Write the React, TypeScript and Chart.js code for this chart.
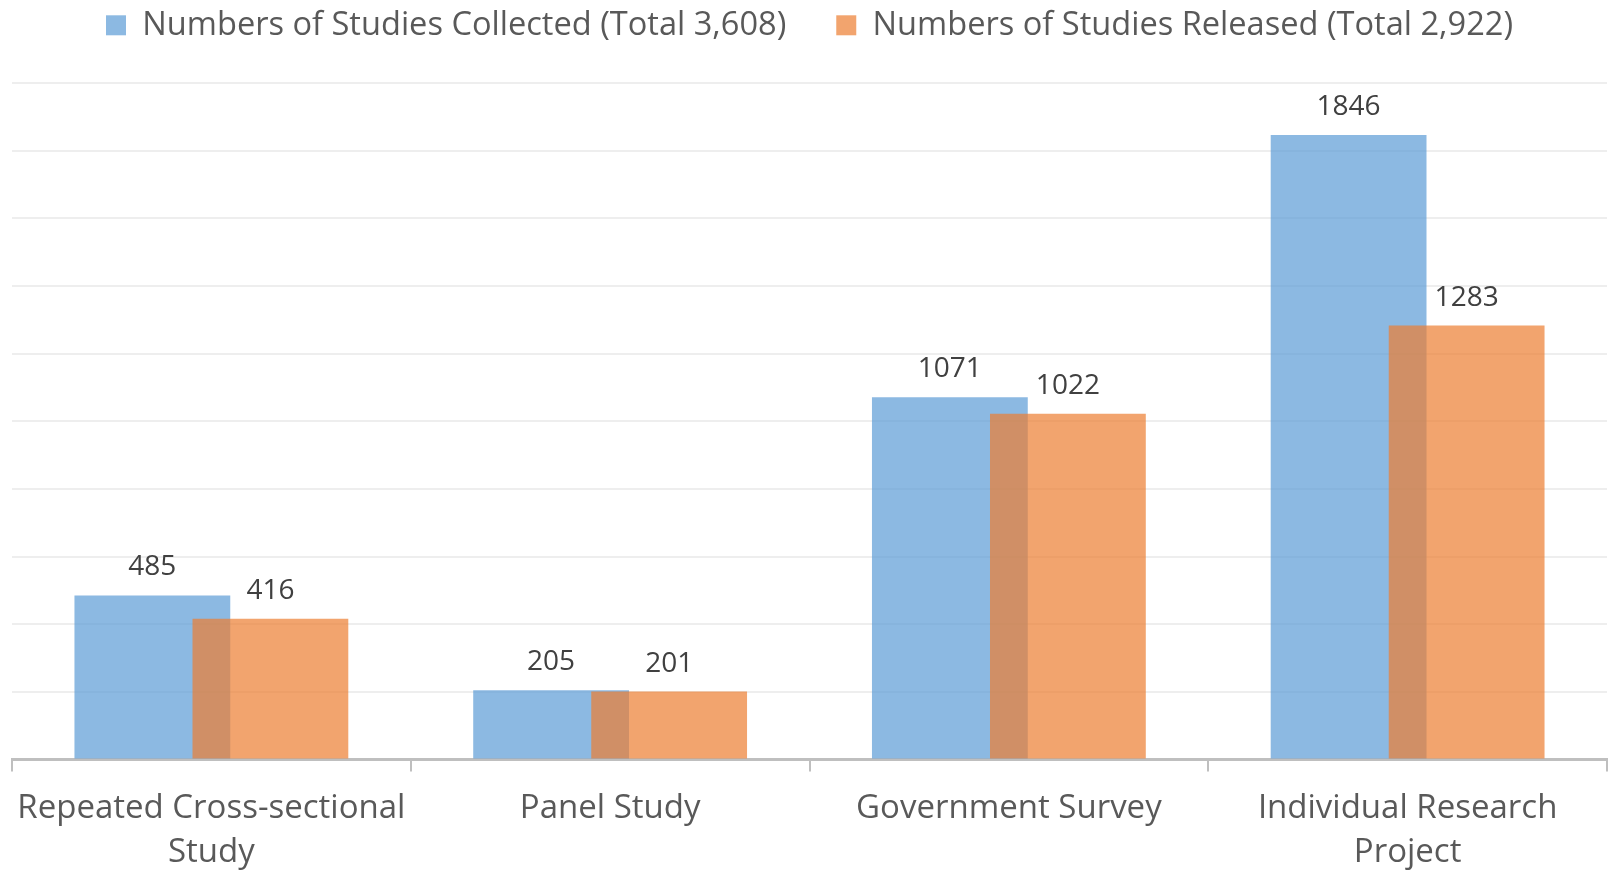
import React, { useEffect, useRef } from "react";
import { Chart, registerables } from "chart.js";

Chart.register(...registerables);

const categories: (string | string[])[] = [
  ["Repeated Cross-sectional", "Study"],
  "Panel Study",
  "Government Survey",
  ["Individual Research", "Project"],
];
const collected = [485, 205, 1071, 1846];
const released = [416, 201, 1022, 1283];
const seriesNames = [
  "Numbers of Studies Collected (Total 3,608)",
  "Numbers of Studies Released (Total 2,922)",
];
const yMax = 2000;
const yStep = 200;

const FONT = "'Open Sans', sans-serif";

export default function App() {
  const ref = useRef<HTMLCanvasElement | null>(null);
  useEffect(() => {
    document.body.style.margin = "0";
    if (!ref.current) return;
    const labelPlugin = {
      id: "valueLabels",
      afterDatasetsDraw(chart: any) {
        const ctx = chart.ctx;
        ctx.save();
        ctx.fillStyle = "#404040";
        ctx.font = `28px ${FONT}`;
        ctx.textAlign = "center";
        ctx.textBaseline = "alphabetic";
        chart.data.datasets.forEach((ds: any, di: number) => {
          const meta = chart.getDatasetMeta(di);
          meta.data.forEach((el: any, i: number) => {
            ctx.fillText(String(ds.data[i]), el.x, el.y - 20);
          });
        });
        ctx.restore();
      },
    };
    // draw the first series below the second one (orange overlaps blue)
    const drawOrder = {
      id: "drawOrder",
      beforeDatasetDraw(chart: any, args: any) {
        if (args.index === 0) return false;
        if (args.index === 1) {
          chart.getDatasetMeta(0).controller.draw();
        }
        return true;
      },
    };
    const legendSpace = {
      id: "legendSpace",
      beforeInit(chart: any) {
        const orig = chart.legend.fit;
        chart.legend.fit = function () {
          orig.bind(this)();
          this.height = 124;
        };
      },
    };
    const chart = new Chart(ref.current, {
      type: "bar",
      data: {
        labels: categories,
        datasets: [
          {
            label: seriesNames[0],
            data: collected,
            backgroundColor: "rgba(91,155,213,0.7)",
            categoryPercentage: 0.592,
            barPercentage: 1.32,
          },
          {
            label: seriesNames[1],
            data: released,
            backgroundColor: "rgba(237,125,49,0.7)",
            categoryPercentage: 0.592,
            barPercentage: 1.32,
          },
        ],
      },
      options: {
        animation: false,
        responsive: false,
        maintainAspectRatio: false,
        layout: { padding: { left: 12, right: 3, top: -41, bottom: -19 } },
        plugins: {
          legend: {
            position: "top",
            labels: {
              boxWidth: 20,
              boxHeight: 20,
              padding: 50,
              color: "#595959",
              font: { family: FONT, size: 32.6 },
            },
          },
          tooltip: { enabled: false },
        },
        scales: {
          x: {
            grid: {
              display: true,
              drawOnChartArea: false,
              drawTicks: true,
              tickLength: 12,
              color: "#BFBFBF",
              lineWidth: 2,
            },
            border: { display: true, color: "#BFBFBF", width: 3 },
            ticks: {
              color: "#595959",
              font: { family: FONT, size: 33, lineHeight: 1.34 },
              padding: 15,
              maxRotation: 0,
              autoSkip: false,
            },
          },
          y: {
            min: 0,
            max: yMax,
            ticks: { display: false, stepSize: yStep },
            grid: { color: "#EEEEEE", lineWidth: 2, drawTicks: false },
            border: { display: false },
          },
        },
      },
      plugins: [labelPlugin, drawOrder, legendSpace],
    });
    return () => chart.destroy();
  }, []);
  return (
    <div style={{ width: 1610, height: 871 }}>
      <canvas ref={ref} width={1610} height={871} style={{ display: "block" }} />
    </div>
  );
}
